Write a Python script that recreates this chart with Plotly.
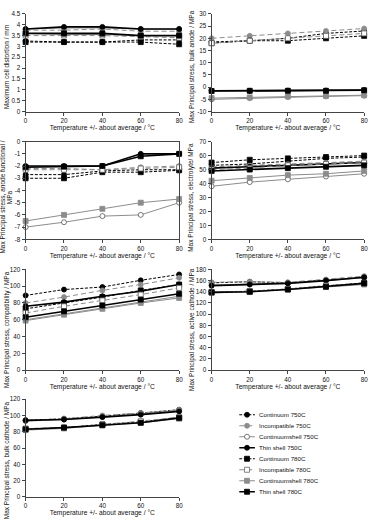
import plotly.graph_objects as go

temps = [0, 20, 40, 60, 80]
series_names = ["Continuum 750C", "Incompatible 750C", "Continuumshell 750C", "Thin shell 750C",
                "Continuum 780C", "Incompatible 780C", "Continuumshell 780C", "Thin shell 780C"]

# values per series, same order as series_names
cell_distortion = [
    [3.25, 3.2, 3.2, 3.3, 3.3],
    [3.75, 3.75, 3.8, 3.7, 3.7],
    [3.8, 3.85, 3.85, 3.8, 3.8],
    [3.8, 3.9, 3.9, 3.8, 3.8],
    [3.2, 3.2, 3.2, 3.2, 3.1],
    [3.5, 3.5, 3.5, 3.45, 3.4],
    [3.6, 3.55, 3.55, 3.5, 3.5],
    [3.6, 3.6, 3.6, 3.5, 3.5],
]
bulk_anode = [
    [18.5, 19, 20, 22, 23],
    [20, 21, 22, 23, 24],
    [-5, -4.5, -4, -3.8, -3.5],
    [-1.5, -1.5, -1.4, -1.4, -1.2],
    [18, 19, 19, 20, 21],
    [18, 19, 20, 21, 22],
    [-4.5, -4.2, -3.8, -3.6, -3.3],
    [-1.6, -1.5, -1.5, -1.5, -1.3],
]
anode_functional = [
    [-2.7, -2.7, -2.4, -2.3, -2.3],
    [-2.2, -2.2, -2.3, -2.1, -2.0],
    [-7.0, -6.6, -6.1, -6.0, -5.0],
    [-2.0, -2.0, -2.0, -1.0, -1.0],
    [-3.0, -3.0, -2.5, -2.5, -2.35],
    [-2.3, -2.3, -2.3, -2.2, -2.1],
    [-6.5, -6.0, -5.5, -5.0, -4.7],
    [-2.1, -2.05, -2.0, -1.2, -1.0],
]
electrolyte = [
    [53, 54, 56, 58, 59],
    [52, 53, 54, 55, 56],
    [38, 41, 43, 45, 47],
    [51, 52, 53, 54, 55],
    [55, 57, 58, 59, 60],
    [50, 51, 53, 54, 55],
    [42, 44, 46, 47, 49],
    [49, 50, 51, 52, 53],
]
compatibility = [
    [89, 96, 99, 107, 114],
    [80, 87, 95, 102, 110],
    [60, 67, 74, 81, 88],
    [76, 81, 88, 94, 102],
    [73, 80, 87, 95, 102],
    [68, 76, 83, 90, 98],
    [59, 66, 73, 80, 86],
    [63, 70, 77, 84, 91],
]
active_cathode = [
    [156, 158, 156, 161, 166],
    [157, 158, 157, 162, 168],
    [152, 154, 156, 160, 165],
    [151, 153, 155, 160, 166],
    [139, 141, 145, 150, 156],
    [140, 141, 145, 151, 155],
    [138, 140, 144, 149, 153],
    [139, 140, 144, 149, 155],
]
bulk_cathode = [
    [94, 96, 99, 103, 107],
    [94, 96, 100, 103, 107],
    [93, 95, 98, 102, 106],
    [94, 95, 98, 101, 105],
    [83, 85, 89, 92, 97],
    [84, 85, 89, 93, 98],
    [82, 84, 88, 91, 96],
    [83, 85, 88, 91, 97],
]

BLACK = "#000000"
GRAY = "#8c8c8c"
DOT = "3px,1.6px"
DASH = "5px,3px"
styles = [
    dict(color=BLACK, dash=DOT, width=1, symbol="circle", fill=BLACK, edge=BLACK),
    dict(color=GRAY, dash=DASH, width=1, symbol="circle", fill=GRAY, edge=GRAY),
    dict(color=GRAY, dash="solid", width=1, symbol="circle", fill="#ffffff", edge="#555555"),
    dict(color=BLACK, dash="solid", width=1.6, symbol="circle", fill=BLACK, edge=BLACK),
    dict(color=BLACK, dash=DOT, width=1, symbol="square", fill=BLACK, edge=BLACK),
    dict(color=GRAY, dash=DASH, width=1, symbol="square", fill="#ffffff", edge="#666666"),
    dict(color=GRAY, dash="solid", width=1, symbol="square", fill=GRAY, edge=GRAY),
    dict(color=BLACK, dash="solid", width=1.6, symbol="square", fill=BLACK, edge=BLACK),
]

W, H = 376, 526
cols = [(24, 180), (213, 368)]
title_x = [4.5, 192.5]
rows = [(10, 109), (139.5, 238.5), (269, 371), (400.5, 499.5)]
title_shift = [4, 7, 10, 12]

panels = [
    dict(data=cell_distortion, yr=[0, 4.5], dt=0.5, title=["Maximum cell distortion / mm"], pos=(0, 0)),
    dict(data=bulk_anode, yr=[-10, 30], dt=5, title=["Max Principal stress, bulk anode / MPa"], pos=(0, 1)),
    dict(data=anode_functional, yr=[-8, 0], dt=1, title=["Max Principal stress, anode functional /", "MPa"], pos=(1, 0), box=True),
    dict(data=electrolyte, yr=[0, 70], dt=10, title=["Max Principal stress, electrolyte/ MPa"], pos=(1, 1)),
    dict(data=compatibility, yr=[0, 120], dt=20, title=["Max Principal stress, compatibility / MPa"], pos=(2, 0)),
    dict(data=active_cathode, yr=[0, 180], dt=20, title=["Max Principal stress, active cathode / MPa"], pos=(2, 1)),
    dict(data=bulk_cathode, yr=[0, 120], dt=20, title=["Max Principal stress, bulk cathode / MPa"], pos=(3, 0)),
]

FONT = "Liberation Sans, Arial, sans-serif"
TXT = "#111111"
AX = "#444444"
TICK_SIZE = 6.3
TITLE_SIZE = 6.5

fig = go.Figure()
layout = {}
annotations = []

for i, p in enumerate(panels):
    k = "" if i == 0 else str(i + 1)
    r, c = p["pos"]
    x0, x1 = cols[c]
    y0, y1 = rows[r]
    for s, vals in enumerate(p["data"]):
        st = styles[s]
        fig.add_trace(go.Scatter(
            x=temps, y=vals, xaxis="x" + k, yaxis="y" + k, mode="lines+markers",
            name=series_names[s], showlegend=False, cliponaxis=False,
            line=dict(color=st["color"], dash=st["dash"], width=st["width"]),
            marker=dict(symbol=st["symbol"], size=5, color=st["fill"],
                        line=dict(color=st["edge"], width=0.8)),
        ))
    n = int(round((p["yr"][1] - p["yr"][0]) / p["dt"]))
    yt = [p["yr"][0] + j * p["dt"] for j in range(n + 1)]
    box = p.get("box", False)
    layout["xaxis" + k] = dict(
        domain=[x0 / W, x1 / W], anchor="y" + k, range=[0, 80],
        tickvals=temps, ticktext=[str(t) for t in temps],
        showline=True, linecolor=AX, linewidth=1, ticks="outside", ticklen=3, tickcolor=AX,
        mirror=box,
        showgrid=False, zeroline=False, tickfont=dict(size=TICK_SIZE, color=TXT, family=FONT),
        title=dict(text="Temperature +/- about average / °C", font=dict(size=6.7, color=TXT, family=FONT), standoff=1),
    )
    layout["yaxis" + k] = dict(
        domain=[1 - y1 / H, 1 - y0 / H], anchor="x" + k, range=p["yr"],
        tickvals=yt, ticktext=["%g" % v for v in yt],
        showline=True, linecolor=AX, linewidth=1, ticks="outside", ticklen=3, tickcolor=AX,
        mirror=box,
        showgrid=False, zeroline=False, tickfont=dict(size=TICK_SIZE, color=TXT, family=FONT),
    )
    # y-axis title (rotated), placed like the original's
    yc = (y0 + y1) / 2 + title_shift[r]
    nl = len(p["title"])
    for li, line in enumerate(p["title"]):
        xc = title_x[c] - (nl - 1) * 3.3 + li * 6.8
        annotations.append(dict(
            x=xc / W, y=1 - yc / H, xref="paper", yref="paper", text=line, showarrow=False,
            textangle=-90, xanchor="center", yanchor="middle",
            font=dict(size=TITLE_SIZE, color=TXT, family=FONT)))

# legend built on its own hidden axis (pixel-like units)
lx0, ly0, ly1 = 241, 405, 505
layout["xaxis8"] = dict(domain=[lx0 / W, 1], anchor="y8", range=[0, W - lx0], visible=False, fixedrange=True)
layout["yaxis8"] = dict(domain=[1 - ly1 / H, 1 - ly0 / H], anchor="x8", range=[ly1, ly0], visible=False, fixedrange=True)
for s, name in enumerate(series_names):
    st = styles[s]
    yy = 416.3 + 11.15 * s
    fig.add_trace(go.Scatter(
        x=[0, 16], y=[yy, yy], xaxis="x8", yaxis="y8", mode="lines", showlegend=False,
        cliponaxis=False, hoverinfo="skip",
        line=dict(color=st["color"], dash=st["dash"], width=st["width"]),
    ))
    fig.add_trace(go.Scatter(
        x=[8], y=[yy], xaxis="x8", yaxis="y8", mode="markers", showlegend=False,
        cliponaxis=False, hoverinfo="skip",
        marker=dict(symbol=st["symbol"], size=5, color=st["fill"], line=dict(color=st["edge"], width=0.8)),
    ))
    annotations.append(dict(x=18, y=yy, xref="x8", yref="y8", text=name, showarrow=False,
                            xanchor="left", yanchor="middle", font=dict(size=6.2, color=TXT, family=FONT)))

fig.update_layout(
    width=W, height=H, margin=dict(l=0, r=0, t=0, b=0),
    paper_bgcolor="white", plot_bgcolor="white",
    font=dict(family=FONT, size=6, color=TXT),
    showlegend=False, annotations=annotations, **layout,
)
fig.write_html("out.html")
